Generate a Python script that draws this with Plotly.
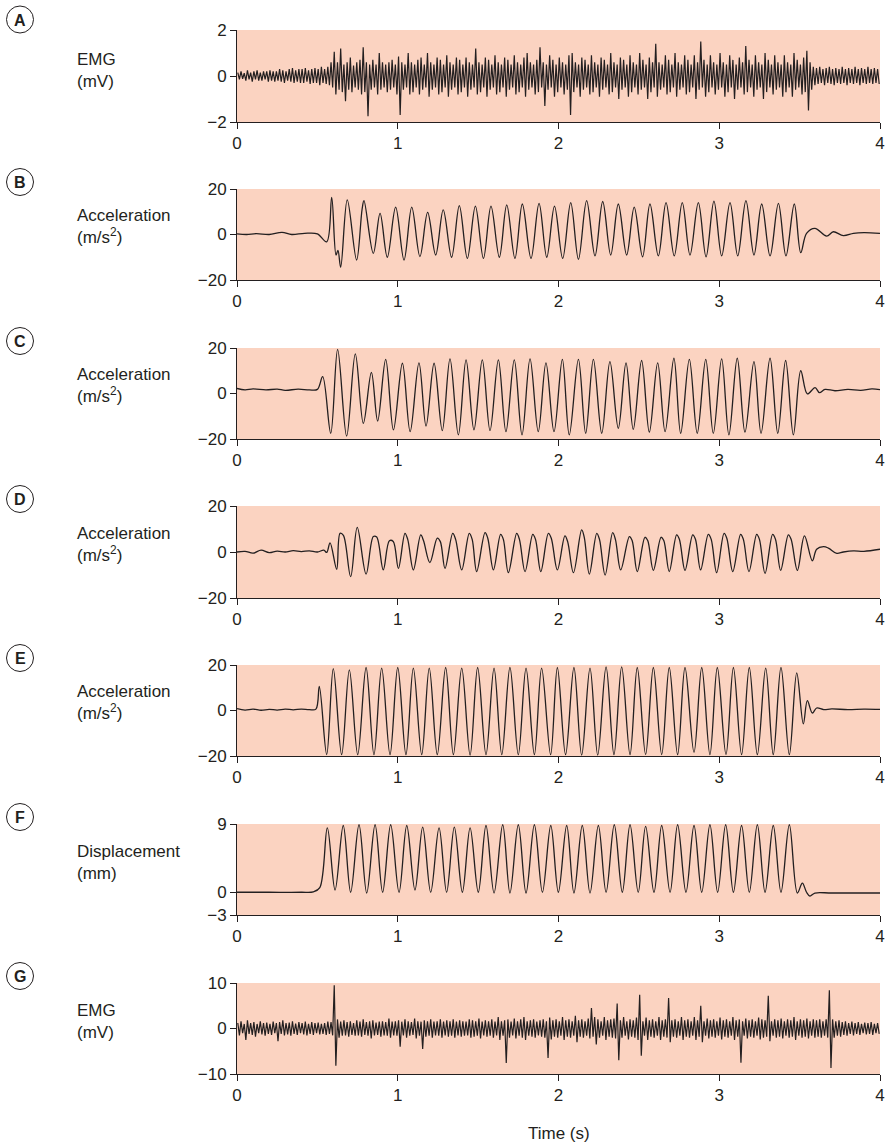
import plotly.graph_objects as go

W, H = 893, 1145
BG = "#fbd3c1"
FONT = "Liberation Sans, Arial, sans-serif"

# ---------------- data ----------------
# Panel B acceleration: times (s) of turning points and values (m/s^2)
tB = [0, 0.06, 0.12, 0.2, 0.28, 0.34, 0.42, 0.5, 0.558, 0.589, 0.616, 0.628, 0.645, 0.686, 0.744, 0.778,
      0.79, 0.848, 0.89, 0.935, 0.987, 1.039, 1.087, 1.138, 1.186, 1.236, 1.283, 1.335, 1.383, 1.433, 1.483,
      1.533, 1.58, 1.632, 1.678, 1.729, 1.775, 1.829, 1.879, 1.927, 1.975, 2.026, 2.076, 2.124, 2.175, 2.227,
      2.275, 2.325, 2.372, 2.424, 2.471, 2.523, 2.569, 2.621, 2.669, 2.72, 2.77, 2.818, 2.87, 2.918, 2.967,
      3.015, 3.067, 3.115, 3.166, 3.216, 3.264, 3.316, 3.368, 3.415, 3.467, 3.507, 3.543, 3.595, 3.668, 3.71,
      3.772, 3.835, 3.9, 4.0]
vB = [0.3, 0.0, 0.4, 0.0, 0.9, 0.0, 0.5, 0.3, -3.2, 16.3, -9, -7, -14.4, 15.2, -11.2, 11,
      14.9, -8.3, 9.3, -10, 12, -11.2, 12, -9.7, 9.7, -9, 10.8, -10, 12.7, -10.5, 12.5,
      -10.5, 12.5, -10, 13, -10.5, 13.4, -10.5, 13.7, -10, 12.5, -10.5, 14, -10.9, 14.9, -9.4,
      14.5, -9, 13.4, -9, 12, -9.8, 13.4, -9.4, 14, -9.4, 14, -9, 14, -9.8, 14.7,
      -9.4, 14, -9.4, 14.9, -9, 13.4, -9.4, 13.7, -9.4, 13.4, -8, 0.5, 2.7, -0.7, 1.2,
      -0.5, 0.5, 0.8, 0.5]

# Panel C acceleration
tC = [0, 0.05, 0.1, 0.18, 0.25, 0.3, 0.38, 0.45, 0.5, 0.533, 0.583, 0.626, 0.682, 0.736, 0.786, 0.836,
      0.875, 0.925, 0.973, 1.029, 1.077, 1.132, 1.176, 1.226, 1.277, 1.325, 1.377, 1.425, 1.474, 1.526,
      1.574, 1.626, 1.673, 1.725, 1.773, 1.823, 1.874, 1.922, 1.972, 2.024, 2.067, 2.124, 2.169, 2.217,
      2.269, 2.32, 2.372, 2.42, 2.465, 2.517, 2.565, 2.617, 2.663, 2.718, 2.76, 2.814, 2.863, 2.916, 2.963,
      3.015, 3.06, 3.112, 3.16, 3.216, 3.26, 3.316, 3.364, 3.413, 3.461, 3.507, 3.548, 3.596, 3.623, 3.658,
      3.72, 3.8, 3.88, 3.95, 4.0]
vC = [2.2, 1.6, 2.0, 1.6, 1.9, 1.4, 1.9, 1.6, 1.8, 7.4, -17.5, 19.4, -18.7, 17.4, -13.1, 9.3,
      -12.1, 15, -16, 13.3, -16.8, 13.5, -14.3, 13.3, -16.3, 15.2, -18.2, 14.8, -16, 14.8,
      -16.3, 14.8, -16.8, 14.8, -18.2, 15.2, -16.8, 13.5, -16.8, 15, -18.2, 15, -17.5, 15,
      -17.5, 14, -15.3, 13.5, -15.8, 14.5, -17, 13.5, -16.8, 15.5, -17.5, 15, -17.5, 15, -17.5,
      15.2, -18.2, 15.5, -17, 14, -17.5, 15.5, -17.5, 14.5, -18.2, 10, -0.2, 2.6, 0.4, 1.8,
      1.2, 1.8, 1.4, 2.0, 1.7]

# Panel D acceleration (peaks carry a small shoulder)
tD = [0, 0.05, 0.1, 0.15, 0.2, 0.25, 0.3, 0.35, 0.4, 0.45, 0.5, 0.54, 0.558, 0.579, 0.62, 0.641, 0.662,
      0.707, 0.748, 0.803, 0.848, 0.869, 0.91, 0.948, 0.972, 1.004, 1.045, 1.062, 1.097, 1.143, 1.16,
      1.2, 1.246, 1.265, 1.294, 1.342, 1.36, 1.398, 1.445, 1.463, 1.491, 1.543, 1.56, 1.595, 1.64, 1.657,
      1.688, 1.74, 1.757, 1.792, 1.84, 1.857, 1.89, 1.937, 1.955, 1.993, 2.04, 2.057, 2.093, 2.144, 2.16,
      2.192, 2.238, 2.255, 2.29, 2.337, 2.354, 2.387, 2.441, 2.458, 2.49, 2.538, 2.555, 2.59, 2.638, 2.655,
      2.689, 2.735, 2.752, 2.787, 2.835, 2.852, 2.884, 2.932, 2.95, 2.984, 3.03, 3.047, 3.084, 3.133, 3.15,
      3.185, 3.233, 3.25, 3.285, 3.332, 3.35, 3.382, 3.43, 3.447, 3.486, 3.53, 3.579, 3.606, 3.648, 3.679,
      3.731, 3.772, 3.835, 3.9, 4.0]
vD = [0.0, 0.3, -0.5, 0.8, -0.3, 0.4, 0.0, 0.6, 0.2, 0.5, 0.0, 0.8, -0.2, 4, -7.5, 8.1, 7.2,
      -10.7, 10.7, -9.6, 6.7, 6.5, -7.8, 4.9, 4.6, -7.1, 8.1, 5.5, -7.8, 7.4, 5,
      -4.6, 6, 4.5, -7.1, 8.1, 5.5, -7.8, 8.1, 5.5, -8.5, 8.4, 6, -7.8, 7.7, 5.5,
      -9, 8.1, 5.5, -8.5, 7.7, 5.5, -8.5, 8.1, 6, -7.8, 7, 4.5, -9, 9.6, 6.5,
      -9.6, 8.1, 5.5, -10, 8.4, 5.5, -7.8, 6.7, 5, -8.5, 6.4, 5, -8, 6.4, 5,
      -8.5, 7.4, 5.5, -8, 7.4, 5.5, -7.8, 7.7, 5.5, -9, 8.1, 6, -8.5, 7.7, 5.5,
      -8.5, 7.7, 5.5, -9.3, 7.7, 5.5, -8, 7.4, 5.5, -8, 7, -3.8, 1.2, 2.3, 1.7,
      -0.6, 0, 0.5, 0.3, 1.2]

# Panel E acceleration
tE = [0, 0.05, 0.1, 0.15, 0.2, 0.25, 0.3, 0.35, 0.4, 0.45, 0.491, 0.512, 0.558, 0.599, 0.651, 0.699,
      0.751, 0.803, 0.852, 0.9, 0.952, 1.0, 1.051, 1.097, 1.149, 1.196, 1.246, 1.298, 1.346, 1.398, 1.45,
      1.497, 1.549, 1.599, 1.647, 1.698, 1.75, 1.798, 1.85, 1.895, 1.951, 1.993, 2.044, 2.096, 2.144, 2.196,
      2.244, 2.296, 2.345, 2.393, 2.445, 2.49, 2.542, 2.59, 2.642, 2.689, 2.741, 2.787, 2.843, 2.891, 2.942,
      2.988, 3.042, 3.088, 3.139, 3.187, 3.237, 3.289, 3.336, 3.384, 3.436, 3.482, 3.523, 3.548, 3.579,
      3.606, 3.65, 3.7, 3.8, 3.9, 4.0]
vE = [0.8, 0.2, 0.6, 0.1, 0.5, 0.2, 0.6, 0.3, 0.6, 0.4, 0.6, 10.6, -19.4, 18.4, -19.4, 17.9,
      -19.4, 18.9, -19.4, 18.6, -19.4, 18.9, -19.4, 18.6, -19.4, 18.6, -19.4, 18.9, -19.4, 18.6, -19.6,
      18.9, -19.4, 18.6, -19.4, 18.9, -19.4, 18.6, -19.4, 18.6, -19.4, 18.9, -19.4, 18.9, -19.6, 18.6,
      -19.6, 19.2, -19.4, 19.2, -19.4, 18.9, -19.4, 18.9, -19.4, 18.9, -19.4, 18.9, -18.4, 18.9, -19.4,
      18.9, -19.4, 18.9, -19.4, 18.9, -19.4, 18.6, -19.4, 18.9, -19.4, 16.5, -5.9, 4.3, -1.1,
      1.1, 0.4, 0.7, 0.4, 0.6, 0.5]

# Panel F displacement (mm)
tF = [0, 0.2, 0.4, 0.475, 0.515, 0.562, 0.61, 0.661, 0.707, 0.759, 0.807, 0.859, 0.906, 0.956, 1.008,
      1.056, 1.107, 1.155, 1.205, 1.257, 1.304, 1.352, 1.402, 1.45, 1.501, 1.549, 1.599, 1.653, 1.698,
      1.75, 1.798, 1.85, 1.9, 1.952, 1.999, 2.051, 2.096, 2.148, 2.196, 2.248, 2.296, 2.347, 2.397, 2.445,
      2.496, 2.542, 2.594, 2.642, 2.694, 2.741, 2.793, 2.843, 2.891, 2.942, 2.99, 3.04, 3.088, 3.139,
      3.187, 3.237, 3.285, 3.336, 3.384, 3.436, 3.486, 3.517, 3.543, 3.564, 3.595, 3.7, 4.0]
vF = [0, 0, 0, 0.05, 0.6, 8.5, 0.3, 8.8, 0, 8.9, -0.1, 8.9, 0, 8.9, 0,
      8.8, 0.3, 8.6, 0, 8.5, 0, 8.6, 0, 8.5, 0, 8.8, -0.1, 8.9, -0.1,
      8.9, -0.1, 8.9, 0, 8.8, 0, 8.8, -0.1, 8.8, -0.1, 8.8, 0, 8.9, 0, 8.9,
      0, 8.7, 0, 8.8, 0, 8.9, 0, 8.8, 0, 8.9, 0, 8.9, 0, 8.8,
      0, 8.9, 0, 8.8, 0, 8.9, -0.1, 1.2, 0, -0.5, -0.1, -0.1, -0.1]

# EMG panels: per 0.02 s bin (10 bins = 0.2 s per row), highest and lowest excursion (mV)
emg_bin = 0.02
A_max = [0.15, 0.2, 0.12, 0.25, 0.15, 0.2, 0.25, 0.15, 0.2, 0.2,
         0.25, 0.2, 0.2, 0.3, 0.25, 0.2, 0.3, 0.35, 0.25, 0.3,
         0.3, 0.35, 0.25, 0.3, 0.35, 0.3, 0.4, 0.3, 0.4, 0.6,
         1.05, 0.6, 1.2, 0.5, 0.6, 0.8, 0.45, 0.6, 0.7, 1.25,
         0.6, 0.5, 0.7, 0.5, 1.0, 0.6, 0.5, 0.6, 0.7, 0.5,
         0.85, 0.6, 0.5, 1.0, 0.6, 0.5, 0.7, 0.8, 0.5, 1.0,
         0.6, 0.5, 0.8, 0.7, 0.5, 0.9, 0.6, 0.5, 0.8, 0.7,
         0.5, 0.8, 0.6, 0.5, 1.2, 0.6, 0.5, 0.8, 0.7, 0.5,
         0.9, 0.6, 0.5, 0.8, 0.7, 0.5, 0.9, 0.6, 0.5, 0.8,
         1.0, 0.6, 0.5, 0.7, 1.25, 0.6, 0.5, 0.9, 0.7, 0.5,
         0.8, 0.6, 0.5, 0.9, 1.0, 0.6, 0.5, 0.8, 0.7, 0.5,
         0.9, 0.6, 0.5, 0.8, 0.7, 0.5, 1.0, 0.6, 0.5, 0.8,
         0.7, 0.5, 0.9, 0.6, 0.5, 1.0, 0.7, 0.5, 0.8, 0.6,
         1.4, 0.6, 0.5, 0.9, 0.7, 0.5, 1.0, 0.6, 0.5, 0.9,
         0.7, 0.5, 0.9, 0.6, 1.5, 0.7, 0.5, 0.9, 0.6, 0.5,
         1.0, 0.6, 0.5, 0.9, 0.7, 0.5, 0.8, 0.6, 1.3, 0.7,
         0.5, 0.9, 0.6, 0.5, 1.0, 0.7, 0.5, 0.9, 0.6, 0.5,
         0.9, 0.6, 0.5, 1.0, 0.7, 0.5, 0.8, 1.1, 0.6, 0.4,
         0.35, 0.4, 0.3, 0.35, 0.4, 0.3, 0.35, 0.3, 0.4, 0.3,
         0.35, 0.3, 0.4, 0.3, 0.35, 0.3, 0.4, 0.3, 0.35, 0.3]
A_min = [-0.15, -0.12, -0.2, -0.15, -0.25, -0.15, -0.2, -0.2, -0.15, -0.25,
         -0.2, -0.25, -0.2, -0.25, -0.3, -0.2, -0.25, -0.3, -0.25, -0.3,
         -0.3, -0.25, -0.35, -0.3, -0.3, -0.4, -0.3, -0.35, -0.4, -0.5,
         -0.8, -0.6, -0.7, -1.1, -0.6, -0.7, -0.5, -0.6, -0.8, -0.7,
         -1.75, -0.6, -0.5, -0.8, -0.6, -0.5, -0.7, -0.6, -0.5, -0.8,
         -1.7, -0.6, -0.5, -0.8, -0.7, -0.5, -0.8, -0.6, -0.5, -0.9,
         -0.6, -0.5, -0.8, -0.7, -0.5, -0.9, -0.6, -0.5, -0.8, -0.7,
         -0.5, -0.9, -0.6, -0.5, -0.8, -0.7, -0.5, -0.9, -0.6, -0.5,
         -0.8, -0.7, -0.5, -0.9, -0.6, -0.5, -0.8, -0.7, -0.5, -0.9,
         -0.6, -0.5, -0.8, -0.7, -0.5, -1.3, -0.6, -0.5, -0.9, -0.7,
         -0.5, -0.8, -0.6, -1.7, -0.7, -0.5, -0.9, -0.6, -0.5, -0.8,
         -0.7, -0.5, -0.9, -0.6, -0.5, -0.8, -0.7, -0.5, -1.0, -0.6,
         -0.5, -0.9, -0.7, -0.5, -0.8, -0.6, -0.5, -1.0, -0.7, -0.5,
         -0.9, -0.6, -0.5, -0.8, -0.7, -0.5, -0.9, -0.6, -0.5, -0.8,
         -0.7, -0.5, -1.0, -0.6, -0.5, -0.9, -0.7, -0.5, -0.8, -0.6,
         -0.5, -0.9, -0.7, -0.5, -1.0, -0.6, -0.5, -0.8, -0.7, -0.5,
         -0.9, -0.6, -0.5, -1.0, -0.7, -0.5, -0.8, -0.6, -0.5, -0.9,
         -0.7, -0.5, -0.9, -0.6, -0.5, -0.8, -0.7, -1.5, -0.6, -0.4,
         -0.35, -0.3, -0.4, -0.3, -0.35, -0.4, -0.3, -0.35, -0.3, -0.4,
         -0.3, -0.35, -0.3, -0.4, -0.3, -0.35, -0.3, -0.35, -0.3, -0.35]
G_max = [1.2, 1.6, 1.0, 1.8, 1.2, 1.4, 1.0, 1.6, 1.2, 1.3,
         1.0, 1.5, 1.2, 1.4, 1.8, 1.2, 1.3, 1.6, 1.1, 1.4,
         1.2, 1.5, 1.0, 1.4, 1.2, 1.3, 1.0, 1.2, 1.5, 1.4,
         9.5, 2.0, 1.5, 1.8, 1.4, 1.6, 1.2, 1.8, 1.5, 2.0,
         1.4, 1.6, 1.8, 1.3, 1.5, 1.6, 1.4, 2.2, 1.5, 1.6,
         1.8, 1.5, 2.0, 1.6, 1.4, 2.2, 1.6, 1.5, 1.8, 1.6,
         2.0, 1.5, 1.6, 2.0, 1.5, 1.8, 1.6, 2.0, 1.5, 1.8,
         1.6, 1.5, 2.0, 1.8, 1.6, 2.2, 1.5, 1.8, 1.6, 2.0,
         1.5, 2.5, 1.6, 1.8, 2.0, 1.5, 2.2, 1.6, 2.0, 2.5,
         1.6, 1.8, 2.0, 1.5, 1.8, 2.0, 1.6, 2.4, 1.8, 2.0,
         1.6, 2.5, 1.8, 2.0, 1.6, 2.8, 1.8, 2.0, 1.6, 2.2,
         4.5, 2.5, 2.0, 1.6, 2.5, 1.8, 2.0, 2.2, 5.5, 1.8,
         2.5, 1.6, 2.0, 1.8, 2.4, 7.4, 1.6, 2.4, 1.8, 2.0,
         1.6, 2.5, 1.8, 2.0, 6.7, 1.8, 2.0, 1.6, 2.5, 1.8,
         2.0, 1.6, 2.5, 1.8, 5.0, 1.6, 2.2, 1.8, 2.0, 1.6,
         2.4, 1.8, 2.0, 1.6, 2.5, 1.8, 2.0, 1.6, 2.2, 1.8,
         2.0, 1.6, 2.4, 2.0, 1.8, 7.2, 1.6, 2.0, 1.8, 2.2,
         1.6, 2.0, 1.8, 2.5, 1.6, 2.0, 1.8, 2.2, 1.6, 2.0,
         1.8, 2.0, 1.6, 2.0, 8.4, 2.0, 1.6, 1.8, 1.4, 1.6,
         1.2, 1.5, 1.2, 1.4, 1.0, 1.3, 1.2, 1.4, 1.0, 1.2]
G_min = [-1.5, -1.0, -2.5, -1.2, -1.4, -1.8, -1.0, -1.3, -1.6, -1.2,
         -1.4, -1.0, -2.8, -1.2, -1.5, -1.3, -1.6, -1.2, -1.4, -1.0,
         -1.3, -1.5, -1.2, -1.4, -1.0, -1.3, -1.2, -1.4, -1.2, -1.5,
         -8.2, -2.0, -1.6, -1.5, -1.8, -1.4, -1.6, -1.5, -1.8, -1.4,
         -1.6, -2.2, -1.5, -1.4, -1.8, -1.5, -1.6, -2.0, -1.5, -1.6,
         -4.0, -1.5, -2.0, -1.6, -1.4, -2.2, -1.6, -4.5, -1.8, -1.6,
         -2.0, -1.5, -1.6, -2.0, -1.5, -1.8, -1.6, -2.0, -1.5, -1.8,
         -1.6, -1.5, -2.0, -1.8, -1.6, -2.2, -1.5, -1.8, -1.6, -2.0,
         -1.5, -2.5, -1.6, -7.6, -2.0, -1.5, -2.2, -1.6, -2.0, -2.5,
         -1.6, -1.8, -2.0, -1.5, -1.8, -2.0, -6.5, -2.4, -1.8, -2.0,
         -1.6, -2.5, -1.8, -2.0, -1.6, -3.0, -1.8, -2.0, -1.6, -2.2,
         -1.8, -3.5, -2.0, -1.6, -2.5, -1.8, -2.0, -2.2, -7.0, -2.0,
         -1.6, -2.4, -1.8, -2.0, -2.5, -6.0, -1.6, -2.5, -1.8, -2.0,
         -1.6, -2.5, -1.8, -2.0, -3.0, -1.8, -2.0, -1.6, -2.5, -1.8,
         -2.0, -1.6, -2.5, -1.8, -3.0, -1.6, -2.2, -1.8, -2.0, -1.6,
         -2.4, -1.8, -2.0, -1.6, -2.5, -1.8, -7.5, -1.6, -2.2, -1.8,
         -2.0, -1.6, -2.4, -2.0, -1.8, -2.8, -1.6, -2.0, -1.8, -2.2,
         -1.6, -2.0, -1.8, -2.5, -1.6, -2.0, -1.8, -2.2, -1.6, -2.0,
         -1.8, -2.0, -1.6, -2.0, -8.7, -2.0, -1.6, -1.8, -1.4, -1.6,
         -1.2, -1.5, -1.2, -1.4, -1.0, -1.3, -1.2, -1.4, -1.0, -1.2]

# axis ranges / ticks per panel
letters = ["A", "B", "C", "D", "E", "F", "G"]
y_ranges = [(-2, 2), (-20, 20), (-20, 20), (-20, 20), (-20, 20), (-3, 9), (-10, 10)]
y_ticks = [[-2, 0, 2], [-20, 0, 20], [-20, 0, 20], [-20, 0, 20], [-20, 0, 20], [-3, 0, 9], [-10, 0, 10]]
y_labels = ["EMG<br>(mV)", "Acceleration<br>(m/s<sup>2</sup>)", "Acceleration<br>(m/s<sup>2</sup>)",
            "Acceleration<br>(m/s<sup>2</sup>)", "Acceleration<br>(m/s<sup>2</sup>)",
            "Displacement<br>(mm)", "EMG<br>(mV)"]
x_ticks = [0, 1, 2, 3, 4]
x_title = "Time (s)"

# ---------------- layout geometry (pixels) ----------------
panel_px = [(30, 122), (189, 280), (348, 439), (506, 598), (665, 756), (824, 915), (983, 1074)]
circle_cy = [19.5, 182, 341, 499, 658, 817, 976]
label_cy = [71, 226.5, 385.5, 544, 702, 862, 1021]
X0, X1 = 237, 880


def py(p):
    return 1 - p / H


def px(p):
    return p / W


def emg_series(vmax, vmin):
    if len(vmax) != len(vmin):
        raise ValueError("EMG arrays differ: %d vs %d" % (len(vmax), len(vmin)))
    t, v = [], []
    for i, (a, b) in enumerate(zip(vmax, vmin)):
        t0 = i * emg_bin
        t += [t0 + emg_bin * 0.25, t0 + emg_bin * 0.75]
        v += [a, b]
    return t, v


series = [emg_series(A_max, A_min), (tB, vB), (tC, vC), (tD, vD), (tE, vE), (tF, vF), emg_series(G_max, G_min)]
for k, (t, v) in enumerate(series):
    if len(t) != len(v):
        raise ValueError("panel %s: %d times vs %d values" % (letters[k], len(t), len(v)))

fig = go.Figure()
layout = dict(
    width=W, height=H, margin=dict(l=0, r=0, t=0, b=0, pad=0), autosize=False,
    paper_bgcolor="white", plot_bgcolor=BG, showlegend=False,
    font=dict(family=FONT, size=17, color="#231f20"),
)
shapes, annos = [], []

for k in range(7):
    n = "" if k == 0 else str(k + 1)
    t, v = series[k]
    is_emg = k in (0, 6)
    fig.add_trace(go.Scatter(
        x=t, y=v, mode="lines", xaxis="x" + n, yaxis="y" + n,
        line=dict(color="#231f20", width=1.2 if is_emg else 1.3,
                  shape="linear" if is_emg else "spline", smoothing=1.0),
        hoverinfo="skip", cliponaxis=True))
    top, bot = panel_px[k]
    ax = dict(domain=[px(X0), px(X1)], range=[0, 4], anchor="y" + n, automargin=False,
              tickmode="array", tickvals=x_ticks, ticktext=[str(x) for x in x_ticks],
              ticks="outside", ticklen=6, tickwidth=1, tickcolor="#231f20",
              showline=True, linecolor="#231f20", linewidth=1, showgrid=False, zeroline=False,
              tickfont=dict(size=17), fixedrange=True)
    ay = dict(domain=[py(bot), py(top)], range=list(y_ranges[k]), anchor="x" + n, automargin=False,
              tickmode="array", tickvals=y_ticks[k],
              ticktext=[("\u2212" + str(-x)) if x < 0 else str(x) for x in y_ticks[k]],
              ticks="outside", ticklen=6, tickwidth=1, tickcolor="#231f20",
              showline=True, linecolor="#231f20", linewidth=1, showgrid=False, zeroline=False,
              tickfont=dict(size=17), fixedrange=True)
    layout["xaxis" + n] = ax
    layout["yaxis" + n] = ay

    cy = circle_cy[k]
    r = 13.5
    shapes.append(dict(type="circle", xref="paper", yref="paper",
                       x0=px(20 - r), x1=px(20 + r), y0=py(cy + r), y1=py(cy - r),
                       line=dict(color="#231f20", width=1)))
    annos.append(dict(text="<b>%s</b>" % letters[k], xref="paper", yref="paper",
                      x=px(20), y=py(cy + 0.5), xanchor="center", yanchor="middle",
                      showarrow=False, font=dict(size=16)))
    annos.append(dict(text=y_labels[k], xref="paper", yref="paper", x=px(75), y=py(label_cy[k]),
                      xanchor="left", yanchor="middle", showarrow=False, align="left",
                      font=dict(size=17)))

annos.append(dict(text=x_title, xref="paper", yref="paper", x=px(559), y=py(1133),
                  xanchor="center", yanchor="middle", showarrow=False, font=dict(size=17)))
layout["shapes"] = shapes
layout["annotations"] = annos
fig.update_layout(**layout)
fig.write_html("out.html", config={"displayModeBar": False, "staticPlot": True},
               post_script="document.body.style.margin='0';document.body.style.padding='0';")
